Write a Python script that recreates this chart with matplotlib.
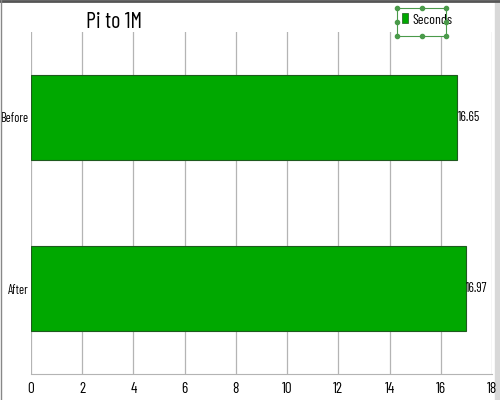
import matplotlib
matplotlib.use("Agg")
import matplotlib.pyplot as plt
from matplotlib.patches import Rectangle

# Data
categories = ["Before", "After"]
seconds = [16.65, 16.97]
series_name = "Seconds"
title = "Pi to 1M"
x_ticks = list(range(0, 19, 2))

plt.rcParams["font.family"] = ["Barlow Condensed", "DejaVu Sans"]

bar_color = "#00a800"
edge_color = "#1f5a1f"
grid_color = "#b4b4b4"
handle_green = "#4a9a4a"

fig = plt.figure(figsize=(5, 4), dpi=100)
ax = fig.add_axes([0.062, 0.065, 0.922, 0.855])
ax.patch.set_alpha(0)

pos = list(range(len(categories)))[::-1]
ax.barh(pos, seconds, height=0.5, color=bar_color, edgecolor=edge_color,
        linewidth=0.8, zorder=3)

for p, v in zip(pos, seconds):
    ax.text(v + 0.03, p, f"{v:.2f}", va="center", ha="left", fontsize=9.5)

ax.set_xlim(0, 18)
ax.set_ylim(-0.5, 1.5)
ax.set_xticks(x_ticks)
ax.set_xticklabels([str(t) for t in x_ticks], fontsize=11)
ax.set_yticks(pos)
ax.set_yticklabels(categories, fontsize=9)
ax.tick_params(axis="x", length=0, pad=6)
ax.tick_params(axis="y", length=0, pad=2)
ax.grid(axis="x", color=grid_color, linewidth=0.9, zorder=0)

for s in ["top", "right", "left"]:
    ax.spines[s].set_visible(False)
ax.spines["bottom"].set_color(grid_color)

fig.text(0.228, 0.93, title, fontsize=16, ha="center", va="baseline")

# legend box (drawn selected, as in the source screenshot)
lx0, lx1, ly0, ly1 = 0.794, 0.892, 0.91, 0.98
fig.add_artist(Rectangle((lx0, ly0), lx1 - lx0, ly1 - ly0, transform=fig.transFigure,
                         facecolor="white", edgecolor=handle_green, lw=0.8, zorder=5))
fig.add_artist(Rectangle((0.804, 0.9425), 0.012, 0.025, transform=fig.transFigure,
                         facecolor=bar_color, edgecolor=edge_color, lw=0.5, zorder=6))
fig.text(0.825, 0.94, series_name, fontsize=10, va="baseline", ha="left", zorder=6)
mx = (lx0 + lx1) / 2
my = (ly0 + ly1) / 2
hx = [lx0, mx, lx1, lx0, lx1, lx0, mx, lx1]
hy = [ly1, ly1, ly1, my, my, ly0, ly0, ly0]
fig.add_artist(plt.Line2D(hx, hy, transform=fig.transFigure, ls="none", marker="o",
                          ms=3, color=handle_green, zorder=7))

# window border lines
fig.add_artist(plt.Line2D([0, 1], [0.998, 0.998], color="#555555", lw=2,
                          transform=fig.transFigure))
fig.add_artist(plt.Line2D([0.001, 0.001], [0, 1], color="#888888", lw=1,
                          transform=fig.transFigure))
fig.add_artist(Rectangle((0.99, 0), 0.01, 1, color="#d8d8d8",
                         transform=fig.transFigure, zorder=-1))

fig.savefig("out.png", dpi=100)
